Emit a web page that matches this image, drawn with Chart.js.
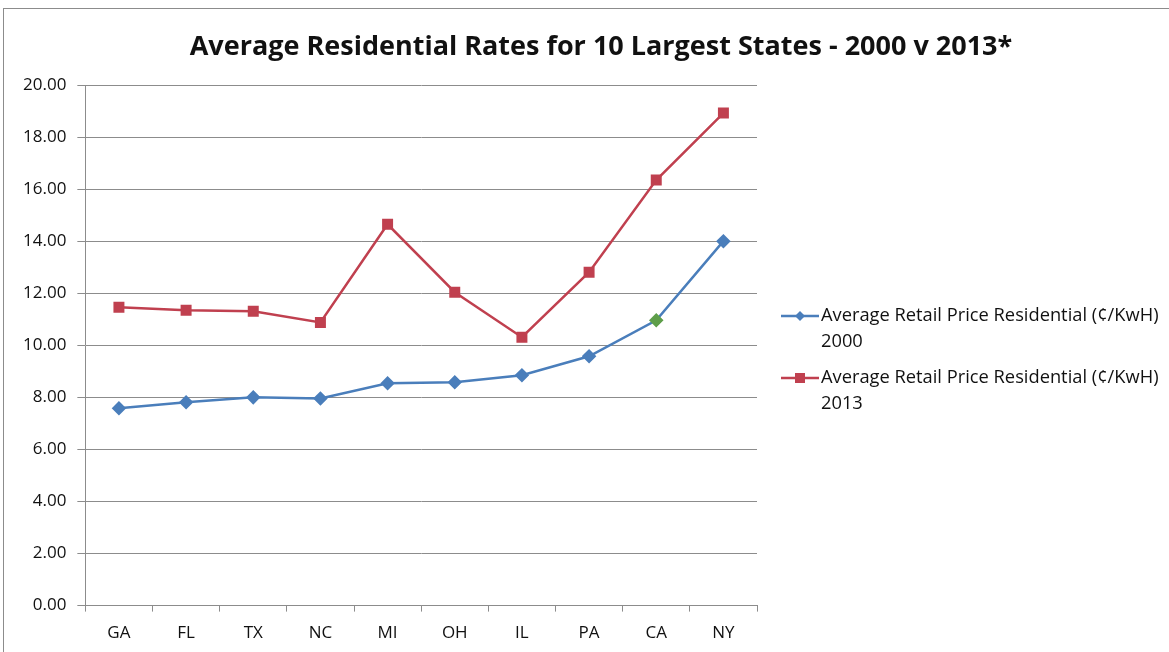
<!DOCTYPE html>
<html>
<head>
<meta charset="utf-8">
<script src="https://cdn.jsdelivr.net/npm/chart.js@4"></script>
<style>
  html, body { margin: 0; padding: 0; background: #fff; }
  #wrap { width: 1169px; height: 652px; position: relative; }
</style>
</head>
<body>
<div id="wrap"><canvas id="chart" width="1169" height="652"></canvas></div>
<script>
const states = ['GA', 'FL', 'TX', 'NC', 'MI', 'OH', 'IL', 'PA', 'CA', 'NY'];
const rates2000 = [7.58, 7.81, 8.0, 7.96, 8.54, 8.58, 8.85, 9.58, 10.96, 14.0];
const rates2013 = [11.46, 11.35, 11.31, 10.88, 14.65, 12.04, 10.31, 12.81, 16.35, 18.92];
const seriesNames = [
  ['Average Retail Price Residential (\u00a2/KwH)', '2000'],
  ['Average Retail Price Residential (\u00a2/KwH)', '2013'],
];
const titleText = 'Average Residential Rates for 10 Largest States - 2000 v 2013*';

const BLUE = '#4A7EBB';
const RED = '#C0404F';
const GREEN = '#5E9E4A';
const labelFont = "'Open Sans', sans-serif";

// outer frame, title and legend drawn by hand (title is centred on the whole frame,
// legend labels wrap onto two lines)
const framePlugin = {
  id: 'frame',
  beforeDraw(chart) {
    const ctx = chart.ctx;
    ctx.save();
    ctx.strokeStyle = '#8c8c8c';
    ctx.lineWidth = 1;
    ctx.strokeRect(3.5, 8.5, 1300, 800);
    ctx.restore();
  },
  afterDraw(chart) {
    const ctx = chart.ctx;
    ctx.save();
    ctx.fillStyle = '#111';
    ctx.textAlign = 'center';
    ctx.textBaseline = 'middle';
    ctx.font = 'bold 27px ' + labelFont;
    ctx.fillText(titleText, 601, 47);

    ctx.textAlign = 'left';
    ctx.font = '18.3px ' + labelFont;
    const rows = [316, 378];
    chart.data.datasets.forEach((ds, i) => {
      const y = rows[i];
      const color = ds.borderColor;
      ctx.strokeStyle = color;
      ctx.lineWidth = 2.5;
      ctx.beginPath();
      ctx.moveTo(781, y);
      ctx.lineTo(819, y);
      ctx.stroke();
      ctx.fillStyle = color;
      const cx = 800;
      if (ds.pointStyle === 'rectRot') {
        ctx.beginPath();
        ctx.moveTo(cx, y - 5); ctx.lineTo(cx + 5, y); ctx.lineTo(cx, y + 5); ctx.lineTo(cx - 5, y);
        ctx.closePath();
        ctx.fill();
      } else {
        ctx.fillRect(cx - 5, y - 5, 10, 10);
      }
      ctx.fillStyle = '#111';
      seriesNames[i].forEach((line, j) => {
        ctx.fillText(line, 821, y + j * 26);
      });
    });
    ctx.restore();
  }
};

new Chart(document.getElementById('chart'), {
  type: 'line',
  data: {
    labels: states,
    datasets: [
      {
        label: seriesNames[0].join(' '),
        data: rates2000,
        borderColor: BLUE,
        backgroundColor: BLUE,
        pointBackgroundColor: (c) => states[c.dataIndex] === 'CA' ? GREEN : BLUE,
        pointBorderColor: (c) => states[c.dataIndex] === 'CA' ? GREEN : BLUE,
        pointStyle: 'rectRot',
        pointRadius: 5.5,
        borderWidth: 2.5,
        tension: 0,
      },
      {
        label: seriesNames[1].join(' '),
        data: rates2013,
        borderColor: RED,
        backgroundColor: RED,
        pointBackgroundColor: RED,
        pointBorderColor: RED,
        pointStyle: 'rect',
        pointRadius: 6,
        borderWidth: 2.5,
        tension: 0,
      },
    ],
  },
  options: {
    responsive: false,
    animation: false,
    layout: { padding: { left: 12, right: 412, top: 85, bottom: -2 } },
    plugins: {
      legend: { display: false },
      tooltip: { enabled: false },
      title: { display: false },
    },
    scales: {
      x: {
        offset: true,
        grid: { offset: true, drawOnChartArea: false, color: '#8c8c8c', tickLength: 6 },
        border: { color: '#8c8c8c' },
        ticks: { color: '#111', font: { family: labelFont, size: 17 }, padding: 11 },
      },
      y: {
        min: 0,
        max: 20,
        ticks: {
          stepSize: 2,
          color: '#111',
          font: { family: labelFont, size: 17 },
          padding: 11,
          callback: (v) => Number(v).toFixed(2),
        },
        grid: { color: '#8c8c8c', tickLength: 8 },
        border: { color: '#8c8c8c' },
      },
    },
  },
  plugins: [framePlugin],
});
</script>
</body>
</html>
